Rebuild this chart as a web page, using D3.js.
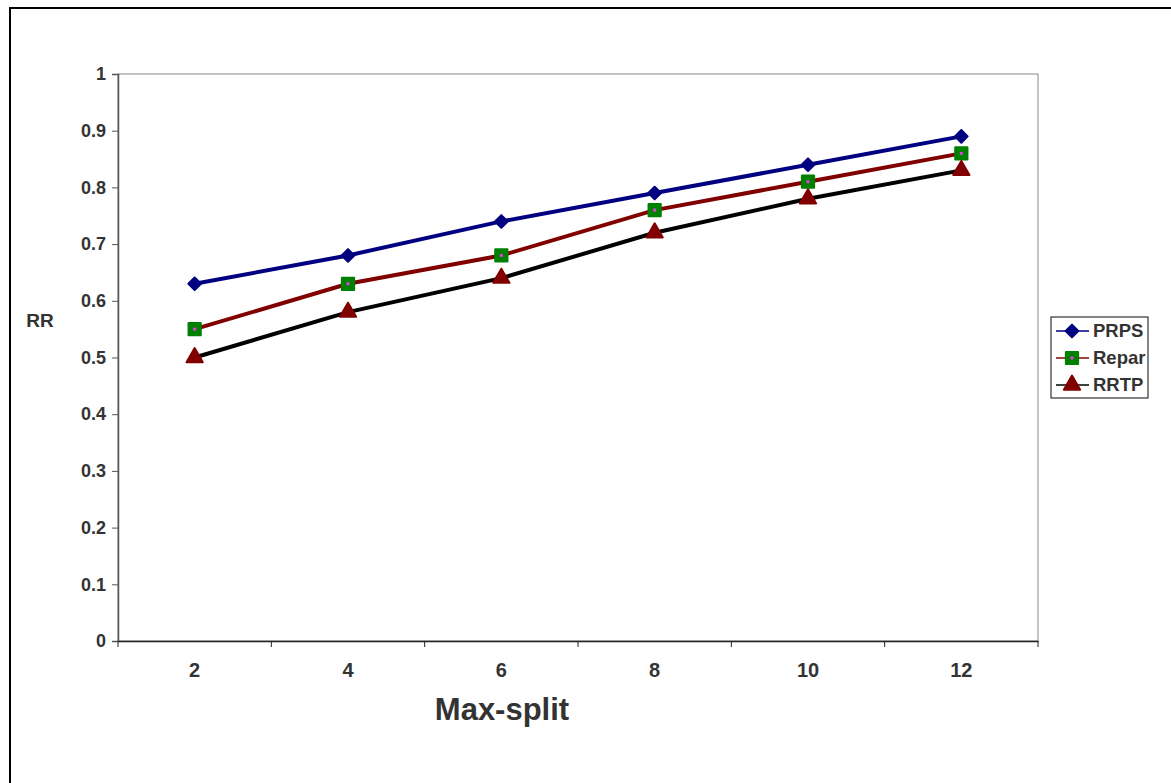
<!DOCTYPE html>
<html>
<head>
<meta charset="utf-8">
<script src="https://cdn.jsdelivr.net/npm/d3@7"></script>
<style>
    body { margin: 0; background: #fff; }
    svg text { font-family: "Liberation Sans", Arial, sans-serif; font-weight: bold; fill: #333; }
</style>
</head>
<body>
<svg id="chart" width="1171" height="783"></svg>
<script>
/*global d3 */
"use strict";

var categories = [2, 4, 6, 8, 10, 12];
var seriesNames = ["PRPS", "Repar", "RRTP"];
var prps = [0.63, 0.68, 0.74, 0.79, 0.84, 0.89];
var repar = [0.55, 0.63, 0.68, 0.76, 0.81, 0.86];
var rrtp = [0.50, 0.58, 0.64, 0.72, 0.78, 0.83];
var yTicks = [0, 0.1, 0.2, 0.3, 0.4, 0.5, 0.6, 0.7, 0.8, 0.9, 1];

var svg = d3.select("#chart");
var m = {left: 118, top: 74, right: 1038, bottom: 641};

// outer frame, runs off the right and bottom edge like the original
svg.append("rect")
    .attr("x", 10).attr("y", 8)
    .attr("width", 1200).attr("height", 820)
    .attr("fill", "none").attr("stroke", "#000").attr("stroke-width", 2);

var x = d3.scaleBand().domain(categories).range([m.left, m.right]);
var y = d3.scaleLinear().domain([0, 1]).range([m.bottom, m.top]);

// plot area border (gray top/right)
svg.append("rect")
    .attr("x", m.left).attr("y", m.top)
    .attr("width", m.right - m.left).attr("height", m.bottom - m.top)
    .attr("fill", "none").attr("stroke", "#888").attr("stroke-width", 1);

// y axis
var yAxis = svg.append("g")
    .attr("transform", "translate(" + m.left + ",0)")
    .call(d3.axisLeft(y).tickValues(yTicks).tickSize(6).tickPadding(6)
        .tickFormat(function (d) { return d3.format("")(+d.toFixed(1)); }));
yAxis.attr("font-size", null);
yAxis.select(".domain").attr("stroke", "#555").attr("stroke-width", 1.5);
yAxis.selectAll(".tick line").attr("stroke", "#555");
yAxis.selectAll("text").style("font-size", "18px").attr("fill", "#333");

// x axis: ticks at category boundaries, labels at centers
var xAxis = svg.append("g")
    .attr("transform", "translate(0," + m.bottom + ")")
    .call(d3.axisBottom(x).tickSize(0).tickPadding(22));
xAxis.attr("font-size", null);
xAxis.select(".domain").attr("stroke", "#222").attr("stroke-width", 1.5);
xAxis.selectAll("text").style("font-size", "20px").attr("fill", "#333");
var bounds = categories.map(function (c) { return x(c); }).concat([m.right]);
xAxis.selectAll(".bt").data(bounds).enter().append("line")
    .attr("class", "bt")
    .attr("x1", function (d) { return d; }).attr("x2", function (d) { return d; })
    .attr("y1", 0).attr("y2", 6)
    .attr("stroke", "#222");

// axis titles
svg.append("text")
    .attr("x", 502).attr("y", 720)
    .attr("text-anchor", "middle")
    .style("font-size", "31px")
    .text("Max-split");
svg.append("text")
    .attr("x", 40).attr("y", 327)
    .attr("text-anchor", "middle")
    .style("font-size", "19px")
    .text("RR");

var cx = function (d, i) { return x(categories[i]) + x.bandwidth() / 2; };
var line = d3.line()
    .x(function (d, i) { return cx(d, i); })
    .y(function (d) { return y(d); });

var series = [
    {name: seriesNames[0], vals: prps, stroke: "#000080", fill: "#000080", sym: d3.symbolSquare, size: 80, rot: 45},
    {name: seriesNames[1], vals: repar, stroke: "#800000", fill: "#008000", sym: d3.symbolSquare, size: 150, rot: 0},
    {name: seriesNames[2], vals: rrtp, stroke: "#000000", fill: "#800000", sym: d3.symbolTriangle, size: 115, rot: 0}
];

function marker(g, s, px, py) {
    g.append("path")
        .attr("d", d3.symbol().type(s.sym).size(s.size))
        .attr("transform", "translate(" + px + "," + py + ") rotate(" + s.rot + ")")
        .attr("fill", s.fill)
        .attr("stroke", s.fill)
        .attr("stroke-width", 2)
        .attr("stroke-linejoin", "round");
    if (s.rot === 0 && s.sym === d3.symbolSquare) {
        g.append("rect")
            .attr("x", px - 1.5).attr("y", py - 1.5)
            .attr("width", 3).attr("height", 3)
            .attr("fill", "#e040e0");
    }
}

var plot = svg.append("g");
series.forEach(function (s) {
    plot.append("path")
        .datum(s.vals)
        .attr("d", line)
        .attr("fill", "none")
        .attr("stroke", s.stroke)
        .attr("stroke-width", 4);
});
series.forEach(function (s) {
    s.vals.forEach(function (v, i) {
        marker(plot, s, cx(v, i), y(v));
    });
});

// legend
var lg = svg.append("g").attr("transform", "translate(1051,317)");
lg.append("rect")
    .attr("width", 97).attr("height", 81)
    .attr("fill", "#fff").attr("stroke", "#333").attr("stroke-width", 1.2);
series.forEach(function (s, i) {
    var ly = 14 + i * 27;
    lg.append("line")
        .attr("x1", 5).attr("x2", 38).attr("y1", ly).attr("y2", ly)
        .attr("stroke", s.stroke).attr("stroke-width", 1.5);
    marker(lg, s, 21, ly);
    lg.append("text")
        .attr("x", 42).attr("y", ly + 6)
        .style("font-size", "18.5px")
        .text(s.name);
});
</script>
</body>
</html>
